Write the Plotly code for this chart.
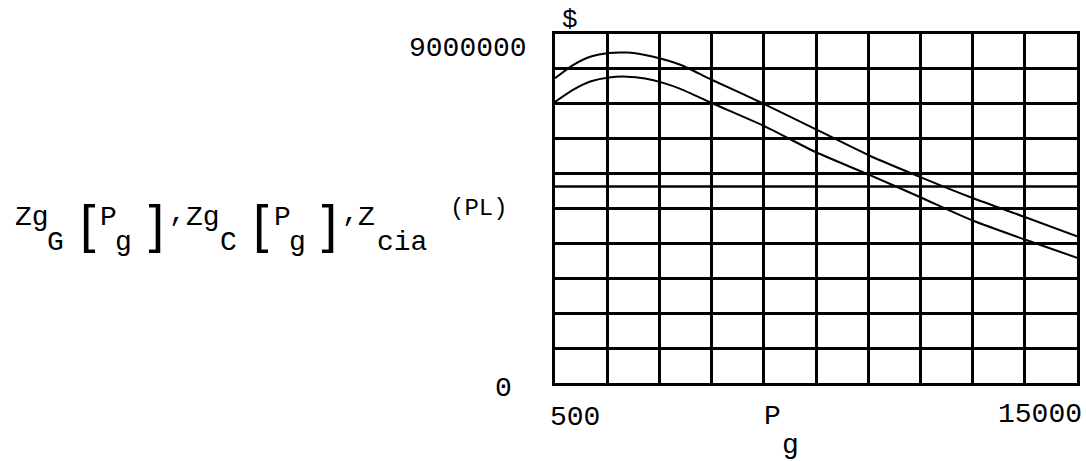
import plotly.graph_objects as go

# Cost curves versus generator power P_g
Pg = [500, 1000, 1500, 2000, 2500, 3000, 3500, 4000, 4850, 6300, 7750, 9200, 10650, 12100, 13550, 15000]
ZgG = [7.86e6, 8.20e6, 8.42e6, 8.51e6, 8.52e6, 8.46e6, 8.35e6, 8.20e6, 7.82e6, 7.20e6,
       6.54e6, 5.88e6, 5.31e6, 4.77e6, 4.28e6, 3.78e6]
ZgC = [7.25e6, 7.56e6, 7.78e6, 7.88e6, 7.90e6, 7.85e6, 7.74e6, 7.58e6, 7.22e6, 6.63e6,
       5.95e6, 5.38e6, 4.79e6, 4.19e6, 3.70e6, 3.23e6]
Zcia_PL = 5.07e6

x_range = [500, 15000]
y_range = [0, 9000000]
x_step = 1450
y_step = 900000

FONT = "Liberation Mono"
INK = "black"

fig = go.Figure()
for name, ys in (("ZgG", ZgG), ("ZgC", ZgC)):
    fig.add_trace(go.Scatter(x=Pg, y=ys, mode="lines", name=name,
                             line=dict(color=INK, width=2, shape="spline", smoothing=0.6)))
fig.add_trace(go.Scatter(x=x_range, y=[Zcia_PL, Zcia_PL], mode="lines", name="Zcia",
                         line=dict(color=INK, width=2.5)))

L, R, T, B = 555, 6, 34, 78
W, H = 1086, 461
plot_bottom = H - B


def label(text, px, py, size=28, anchor="left", box=None):
    """Place text at an absolute pixel spot, relative to the plot's lower-left corner."""
    fig.add_annotation(
        text=text, xref="paper", yref="paper", x=0, y=0,
        xshift=px - L, yshift=plot_bottom - py,
        xanchor=anchor, yanchor="middle", showarrow=False,
        width=box, align="center", borderpad=0,
        font=dict(family=FONT, size=size, color=INK),
    )


# Axis limit labels
label("9000000", 528, 48, anchor="right")
label("0", 513, 388, anchor="right")
label("500", 549, 417)
label("15000", 1083, 414, anchor="right")
label("P", 772, 416, anchor="center")
label("g", 790, 445, anchor="center")
label("$", 570, 20, size=26, anchor="center")

# Expression for the plotted functions
main_y, sub_y, br_y = 217, 242, 228
label("Zg", 14, main_y)
label("G", 46, sub_y)
label("[", 89, br_y, size=52, anchor="center", box=12)
label("P", 99, main_y)
label("g", 114, sub_y)
label("]", 155, br_y, size=52, anchor="center", box=12)
label(",", 168, main_y - 4)
label("Zg", 185, main_y)
label("C", 219, sub_y)
label("[", 262, br_y, size=52, anchor="center", box=12)
label("P", 273, main_y)
label("g", 288, sub_y)
label("]", 328, br_y, size=52, anchor="center", box=12)
label(",", 341, main_y - 4)
label("Z", 357, main_y)
label("cia", 376, sub_y)
label("(PL)", 449, 208, size=24)

axis_common = dict(
    showgrid=True, gridcolor=INK, gridwidth=2.5,
    showline=True, linecolor=INK, linewidth=2.5, mirror=True,
    zeroline=False, ticks="", showticklabels=False,
)
fig.update_xaxes(range=x_range, tick0=x_range[0], dtick=x_step, **axis_common)
fig.update_yaxes(range=y_range, tick0=0, dtick=y_step, **axis_common)

fig.update_layout(
    width=W, height=H,
    margin=dict(l=L, r=R, t=T, b=B),
    plot_bgcolor="white", paper_bgcolor="white",
    showlegend=False,
)

fig.write_html("out.html")
